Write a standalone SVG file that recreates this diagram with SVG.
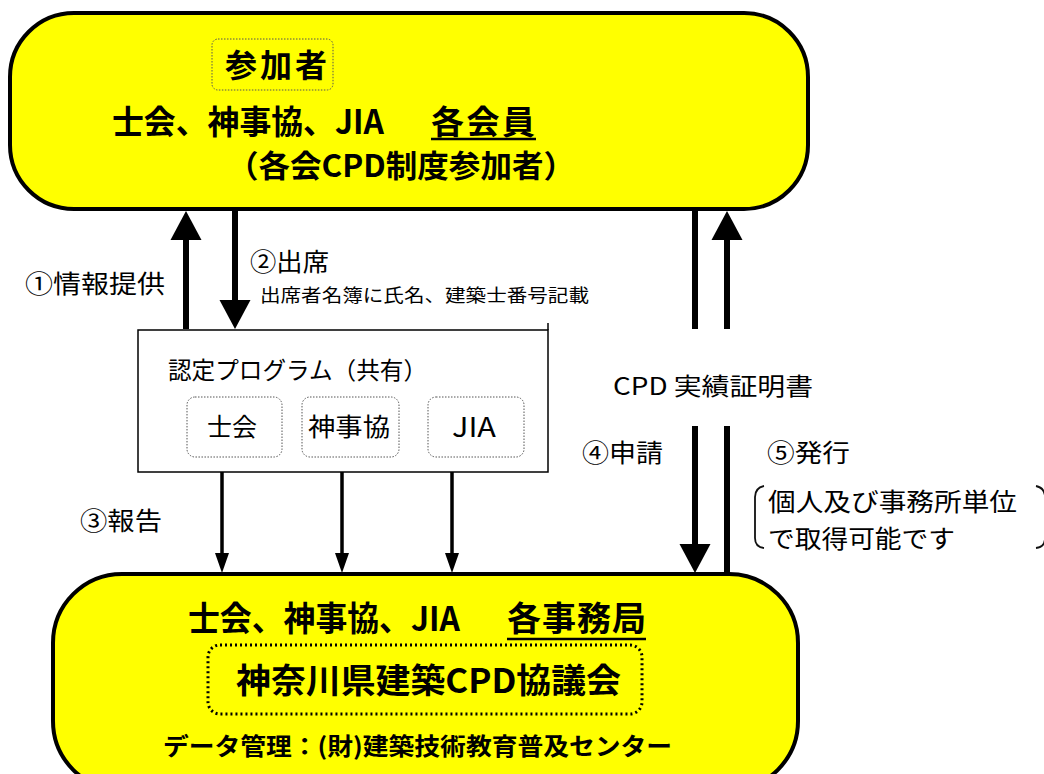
<svg xmlns="http://www.w3.org/2000/svg" width="1044" height="774" viewBox="0 0 1044 774">
<defs>
<style>
text{font-family:"Noto Sans CJK JP","Liberation Sans",sans-serif;fill:#000}
.b{font-weight:bold}
.big{font-size:34px}
.mid{font-size:25px}
.sm{font-size:18px}
.yel{fill:#FFFF00;stroke:#000;stroke-width:4}
.thick{stroke:#000;stroke-width:6;fill:none}
.thin{stroke:#000;stroke-width:3.5;fill:none}
.dotbox{fill:none;stroke:#555;stroke-width:1;stroke-dasharray:1.5 1.5}
.ul{stroke:#000;stroke-width:2.5}
</style>
<marker id="bigHead" markerUnits="userSpaceOnUse" markerWidth="30" markerHeight="32" refX="0" refY="16" orient="auto">
<path d="M0,0.5 L29,16 L0,31.5 Z" fill="#000"/>
</marker>
<marker id="smHead" markerUnits="userSpaceOnUse" markerWidth="21" markerHeight="16" refX="0" refY="8" orient="auto">
<path d="M0,1 L20,8 L0,15 Z" fill="#000"/>
</marker>
</defs>

<g id="participants">
<rect class="yel" x="10" y="13" width="798" height="196" rx="64" ry="64"/>
<rect class="dotbox" x="212" y="39" width="121" height="51" rx="6"/>
<text class="b" x="225" y="77" font-size="32" textLength="102">参加者</text>
<text class="b" x="112" y="134" font-size="33" textLength="272" lengthAdjust="spacingAndGlyphs">士会、神事協、JIA</text>
<text class="b" x="431" y="134" font-size="33" textLength="104">各会員</text>
<line class="ul" x1="431" y1="139" x2="536" y2="139"/>
<text class="b" x="227" y="177" font-size="31" textLength="348" lengthAdjust="spacingAndGlyphs">（各会CPD制度参加者）</text>
</g>

<g id="program">
<rect x="138" y="330" width="410" height="142" fill="#fff" stroke="#000" stroke-width="1.5"/>
<line x1="548" y1="323" x2="548" y2="330" stroke="#000" stroke-width="1.5"/>
<text x="168" y="379" font-size="24" textLength="259" lengthAdjust="spacingAndGlyphs">認定プログラム（共有）</text>
<g id="prog-shikai">
<rect class="dotbox" x="187" y="397" width="95" height="60" rx="8"/>
<text class="mid" x="207" y="436" textLength="50">士会</text>
</g>
<g id="prog-jinjikyo">
<rect class="dotbox" x="302" y="397" width="97" height="60" rx="8"/>
<text class="mid" x="308" y="436" textLength="82" lengthAdjust="spacingAndGlyphs">神事協</text>
</g>
<g id="prog-jia">
<rect class="dotbox" x="428" y="397" width="96" height="60" rx="8"/>
<text x="452" y="437" font-size="27" textLength="44" lengthAdjust="spacingAndGlyphs">JIA</text>
</g>
</g>

<g id="secretariat">
<rect class="yel" x="53" y="574" width="745" height="216" rx="69" ry="69"/>
<text class="b big" x="188" y="631" textLength="272" lengthAdjust="spacingAndGlyphs">士会、神事協、JIA</text>
<text class="b big" x="507" y="631" textLength="139">各事務局</text>
<line class="ul" x1="507" y1="639" x2="646" y2="639"/>
<rect x="208" y="645" width="434" height="69" rx="12" fill="none" stroke="#000" stroke-width="3" stroke-dasharray="2 3"/>
<text class="b big" x="236" y="693" textLength="385" lengthAdjust="spacingAndGlyphs">神奈川県建築CPD協議会</text>
<text class="b" x="163" y="755" font-size="24" textLength="509" lengthAdjust="spacingAndGlyphs">データ管理：(財)建築技術教育普及センター</text>
</g>

<g id="certificate">
<text x="613" y="395" font-size="24" textLength="200" lengthAdjust="spacingAndGlyphs" fill="#111">CPD 実績証明書</text>
</g>

<g id="connectors">
<line class="thick" x1="186" y1="329" x2="186" y2="240" marker-end="url(#bigHead)"/>
<line class="thick" x1="235" y1="210" x2="235" y2="300" marker-end="url(#bigHead)"/>
<line class="thick" x1="695" y1="210" x2="695" y2="329"/>
<line class="thick" x1="695" y1="426" x2="695" y2="544" marker-end="url(#bigHead)"/>
<line class="thick" x1="727" y1="573" x2="727" y2="426"/>
<line class="thick" x1="727" y1="329" x2="727" y2="240" marker-end="url(#bigHead)"/>
<line class="thin" x1="222" y1="472" x2="222" y2="553" marker-end="url(#smHead)"/>
<line class="thin" x1="342" y1="472" x2="342" y2="553" marker-end="url(#smHead)"/>
<line class="thin" x1="452" y1="472" x2="452" y2="553" marker-end="url(#smHead)"/>
<text class="mid" x="25" y="293" textLength="140" lengthAdjust="spacingAndGlyphs">①情報提供</text>
<text class="mid" x="250" y="271" textLength="79" lengthAdjust="spacingAndGlyphs">②出席</text>
<text class="sm" x="260" y="302" textLength="329" lengthAdjust="spacingAndGlyphs">出席者名簿に氏名、建築士番号記載</text>
<text class="mid" x="80" y="530" textLength="82" lengthAdjust="spacingAndGlyphs">③報告</text>
<text class="mid" x="582" y="462" textLength="81" lengthAdjust="spacingAndGlyphs" fill="#111">④申請</text>
<text class="mid" x="767" y="462" textLength="83" lengthAdjust="spacingAndGlyphs" fill="#111">⑤発行</text>
<text class="mid" x="768" y="511" textLength="249" lengthAdjust="spacingAndGlyphs" fill="#111">個人及び事務所単位</text>
<text class="mid" x="768" y="548" textLength="187" lengthAdjust="spacingAndGlyphs" fill="#111">で取得可能です</text>
<path d="M764,486 Q755,488 755,497 L755,538 Q755,547 764,548" fill="none" stroke="#111" stroke-width="1.8"/>
<path d="M1036,486 Q1045,488 1045,497 L1045,538 Q1045,547 1036,548" fill="none" stroke="#111" stroke-width="1.8"/>
</g>
</svg>
